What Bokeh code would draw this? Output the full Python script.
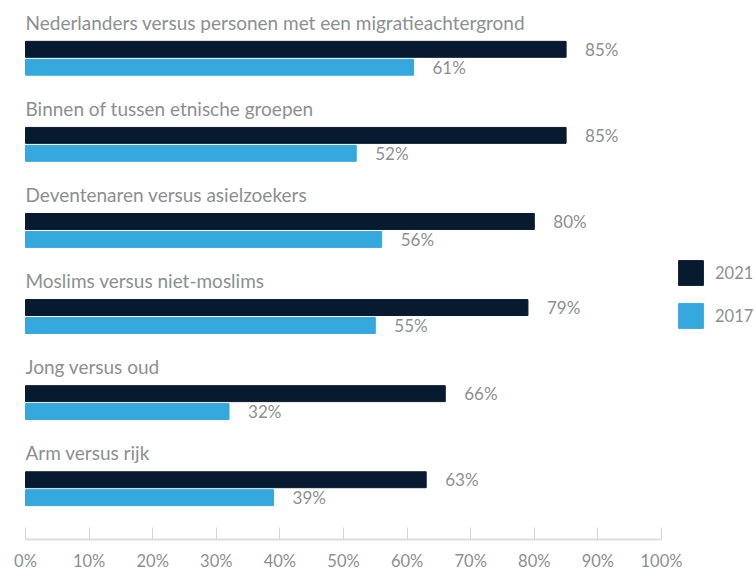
from bokeh.plotting import figure
from bokeh.models import Range1d, ColumnDataSource, Legend, LegendItem, PrintfTickFormatter, FixedTicker
from bokeh.core.properties import value
from bokeh.embed import file_html
from bokeh.resources import INLINE

categories = [
    "Nederlanders versus personen met een migratieachtergrond",
    "Binnen of tussen etnische groepen",
    "Deventenaren versus asielzoekers",
    "Moslims versus niet-moslims",
    "Jong versus oud",
    "Arm versus rijk",
]
series_names = ["2021", "2017"]
v2021 = [85, 85, 80, 79, 66, 63]
v2017 = [61, 52, 56, 55, 32, 39]
x_ticks = [0, 10, 20, 30, 40, 50, 60, 70, 80, 90, 100]

DARK = "#081a2f"
LIGHT = "#35a8de"
GRAY = "#8b908f"
FONT = "Lato"

W, H = 756, 573
BOTTOM = 32
frame_h = H - BOTTOM
x0_px, x100_px = 25, 661
scale = (x100_px - x0_px) / 100.0

p = figure(width=W, height=H, output_backend="svg", toolbar_location=None,
           x_range=Range1d(-x0_px / scale, (W - x0_px) / scale),
           y_range=Range1d(frame_h, 0),
           min_border_left=0, min_border_right=0, min_border_top=0,
           min_border_bottom=BOTTOM, x_axis_location="below", y_axis_location=None)
p.outline_line_color = None
p.grid.visible = False

pitch = 86.4
n = len(categories)
y_dark = [49 + i * pitch for i in range(n)]
y_light = [67 + i * pitch for i in range(n)]
y_lab = [22 + i * pitch for i in range(n)]

src = ColumnDataSource(dict(cat=categories, v21=v2021, v17=v2017,
                            yd=y_dark, yl=y_light, ylab=y_lab,
                            t21=[f"{v}%" for v in v2021], t17=[f"{v}%" for v in v2017]))

r21 = p.hbar(y="yd", left=0, right="v21", height=16, color=DARK, source=src)
r17 = p.hbar(y="yl", left=0, right="v17", height=16, color=LIGHT, source=src)

p.text(x=0, y="ylab", text="cat", source=src, text_font=value(FONT),
       text_font_size="19px", text_color=GRAY, text_baseline="alphabetic", text_align="left")
p.text(x="v21", y="yd", text="t21", source=src, x_offset=19, text_font=value(FONT),
       text_font_size="17px", text_color=GRAY, text_baseline="middle", text_align="left")
p.text(x="v17", y="yl", text="t17", source=src, x_offset=19, text_font=value(FONT),
       text_font_size="17px", text_color=GRAY, text_baseline="middle", text_align="left")

ax = p.xaxis[0]
ax.ticker = FixedTicker(ticks=x_ticks)
ax.formatter = PrintfTickFormatter(format="%d%%")
ax.bounds = (0, 100)
ax.axis_line_color = "#dedede"
ax.axis_line_width = 2
ax.major_tick_line_color = "#d6d6d6"
ax.major_tick_in = 12
ax.major_tick_out = 0
ax.minor_tick_line_color = None
ax.major_label_text_color = GRAY
ax.major_label_text_font = FONT
ax.major_label_text_font_size = "16.5px"
ax.major_label_standoff = 11

legend = Legend(items=[LegendItem(label=series_names[0], renderers=[r21]),
                       LegendItem(label=series_names[1], renderers=[r17])],
                location=(675, frame_h - 333), glyph_width=31, glyph_height=31,
                spacing=12, padding=0, margin=0, label_standoff=9,
                label_text_font=FONT, label_text_font_size="16.5px", label_text_color=GRAY,
                border_line_color=None, background_fill_alpha=0)
p.add_layout(legend, "center")

open("out.html", "w").write(file_html(p, INLINE))
